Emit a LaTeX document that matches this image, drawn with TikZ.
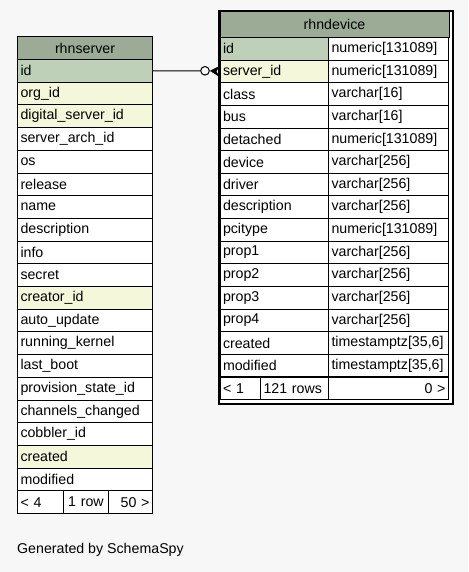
\documentclass[tikz,border=0pt]{standalone}
\usepackage{fontspec}
\setmainfont{Liberation Sans}
\usetikzlibrary{calc}
\definecolor{bgc}{HTML}{F7F7F7}
\definecolor{hdc}{HTML}{9BAB96}
\definecolor{pkc}{HTML}{BED1B8}
\definecolor{fkc}{HTML}{F4F7DA}
\definecolor{wc}{HTML}{FFFFFF}
\newcommand{\fsz}{\fontsize{14.2}{15}\selectfont}
\tikzset{
  cell/.style={draw=black, line width=1pt, anchor=north west, inner ysep=0pt, inner xsep=3pt,
    font=\fsz, minimum height=#1},
  lcell/.style={align=left},
  ccell/.style={align=center},
  rcell/.style={align=right},
}
\begin{document}
\begin{tikzpicture}[x=1pt,y=-1pt]
\fill[bgc] (0,0) rectangle (468,572);
\useasboundingbox (0,0) rectangle (468,572);
% ---- rhnserver ----
\node[cell=23, ccell, fill=hdc, text width=129] (sh) at (17,36) {rhnserver};
\foreach \t/\c [count=\i] in {id/pkc, org\_id/fkc, digital\_server\_id/fkc, server\_arch\_id/wc, os/wc, release/wc, name/wc, description/wc, info/wc, secret/wc, creator\_id/fkc, auto\_update/wc, running\_kernel/wc, last\_boot/wc, provision\_state\_id/wc, channels\_changed/wc, cobbler\_id/wc, created/fkc, modified/wc}
{
  \node[cell=22.7, lcell, fill=\c, text width=129] (s\i) at ({17},{59+(\i-1)*22.7}) {\t};
}
\node[cell=22.7, lcell, fill=white, text width=40] (sf1) at (17,490.3) {< 4};
\node[cell=22.7, ccell, fill=white, text width=39] (sf2) at (63,490.3) {1 row};
\node[cell=22.7, rcell, fill=white, text width=38] (sf3) at (108,490.3) {50 >};
% ---- rhndevice ----
\node[draw=black, line width=2.2pt, fill=white, anchor=north west, minimum width=234, minimum height=393, inner sep=0pt] (dframe) at (218,10) {};
\node[cell=26, ccell, fill=hdc, text width=223] (dh) at (219.5,11) {rhndevice};
\foreach \t/\y/\c [count=\i] in {id/numeric[131089]/pkc, server\_id/numeric[131089]/fkc, class/varchar[16]/wc, bus/varchar[16]/wc, detached/numeric[131089]/wc, device/varchar[256]/wc, driver/varchar[256]/wc, description/varchar[256]/wc, pcitype/numeric[131089]/wc, prop1/varchar[256]/wc, prop2/varchar[256]/wc, prop3/varchar[256]/wc, prop4/varchar[256]/wc, created/timestamptz[35{,}6]/wc, modified/timestamptz[35{,}6]/wc}
{
  \node[cell=22.63, lcell, fill=\c, text width=102.5] (d\i) at ({219.5},{37+(\i-1)*22.63}) {\t};
  \node[cell=22.63, lcell, fill=white, text width=114] (t\i) at ({328},{37+(\i-1)*22.63}) {\y};
}
\node[cell=22.63, lcell, fill=white, text width=34.5] (df1) at (219.5,376.5) {< 1};
\node[cell=22.63, lcell, fill=white, text width=62] (df2) at (260,376.5) {121 rows};
\node[cell=22.63, rcell, fill=white, text width=114] (df3) at (328,376.5) {0 >};
% ---- connector ----
\node[circle, draw=black, line width=1pt, minimum size=8.6pt, inner sep=0pt] (c1) at (205,70.8) {};
\draw[line width=1pt] (s1.east) -- (c1.west);
\fill[black] ($(d2.west)+(0,-5.5)$) -- (c1.east) -- ($(d2.west)+(0,5.5)$) -- ($(d2.west)+(-3,0)$) -- cycle;
% ---- footer text ----
\node[anchor=west, font=\fsz, inner sep=0pt] (gen) at (17,549.5) {Generated by SchemaSpy};
\end{tikzpicture}
\end{document}
